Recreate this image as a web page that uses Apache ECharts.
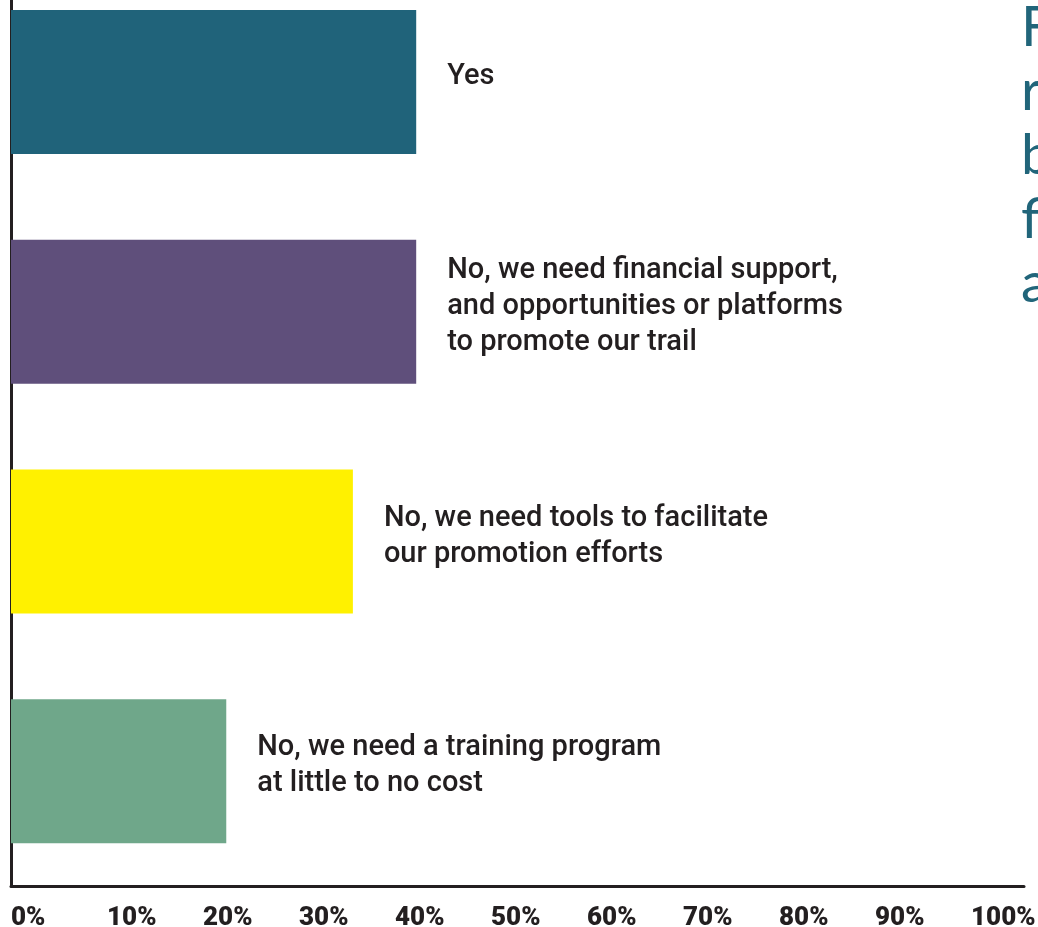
<!DOCTYPE html>
<html>
<head>
<meta charset="utf-8">
<script src="https://cdn.jsdelivr.net/npm/echarts@6/dist/echarts.min.js"></script>
<style>
html,body{margin:0;padding:0;background:#fff;}
#main{width:1038px;height:927px;}
</style>
</head>
<body>
<div id="main"></div>
<script>
var categories = [
  "Yes",
  "No, we need financial support,\nand opportunities or platforms\nto promote our trail",
  "No, we need tools to facilitate\nour promotion efforts",
  "No, we need a training program\nat little to no cost"
];
var values = [40, 40, 33.75, 21.25];
var barColors = ["#20637a", "#5f4f7b", "#fff100", "#6fa78a"];
var tickValues = [0, 10, 20, 30, 40, 50, 60, 70, 80, 90, 100];
var titleLines = ["Figure", "respondents", "by", "financial", "and"];

var chart = echarts.init(document.getElementById('main'));
var ink = '#231f20';

chart.setOption({
  animation: false,
  backgroundColor: '#ffffff',
  graphic: [{
    type: 'text',
    left: 1021,
    top: -4,
    style: {
      text: titleLines.join('\n'),
      fill: '#21657a',
      font: '400 56px Lato',
      lineHeight: 64
    }
  }],
  grid: [
    { left: 11, width: 1013, top: -33, height: 919, outerBoundsMode: 'none', containLabel: false },
    { left: 11, width: 960, top: -33, height: 919, outerBoundsMode: 'none', containLabel: false }
  ],
  xAxis: [
    {
      gridIndex: 0, type: 'value', min: 0, max: 100,
      splitLine: { show: false },
      axisTick: { show: false },
      axisLabel: { show: false },
      axisLine: { show: true, lineStyle: { color: ink, width: 3 } }
    },
    {
      gridIndex: 1, type: 'value', min: 0, max: 100, interval: 10,
      splitLine: { show: false },
      axisTick: { show: false },
      axisLine: { show: false },
      axisLabel: {
        show: true, align: 'left', margin: 19,
        color: ink, fontFamily: 'Roboto', fontWeight: 900, fontSize: 26,
        formatter: function (v) { return tickValues.indexOf(v) >= 0 ? v + '%' : ''; }
      }
    }
  ],
  yAxis: [
    {
      gridIndex: 0, type: 'category', data: categories, inverse: true,
      axisTick: { show: false },
      axisLabel: { show: false },
      axisLine: { show: true, lineStyle: { color: ink, width: 3 } }
    },
    { gridIndex: 1, type: 'value', min: 0, max: 1, show: false }
  ],
  series: [
    {
      type: 'bar',
      xAxisIndex: 0, yAxisIndex: 0,
      barWidth: 144,
      data: values,
      itemStyle: {
        color: function (p) { return barColors[p.dataIndex]; }
      },
      label: {
        show: true,
        position: 'right',
        distance: 31,
        offset: [0, -5],
        formatter: function (p) { return categories[p.dataIndex]; },
        color: ink,
        fontFamily: 'Roboto',
        fontWeight: 500,
        fontSize: 29,
        lineHeight: 36,
        align: 'left'
      }
    },
    {
      type: 'scatter', xAxisIndex: 1, yAxisIndex: 1, data: [], silent: true
    }
  ]
});
</script>
</body>
</html>
